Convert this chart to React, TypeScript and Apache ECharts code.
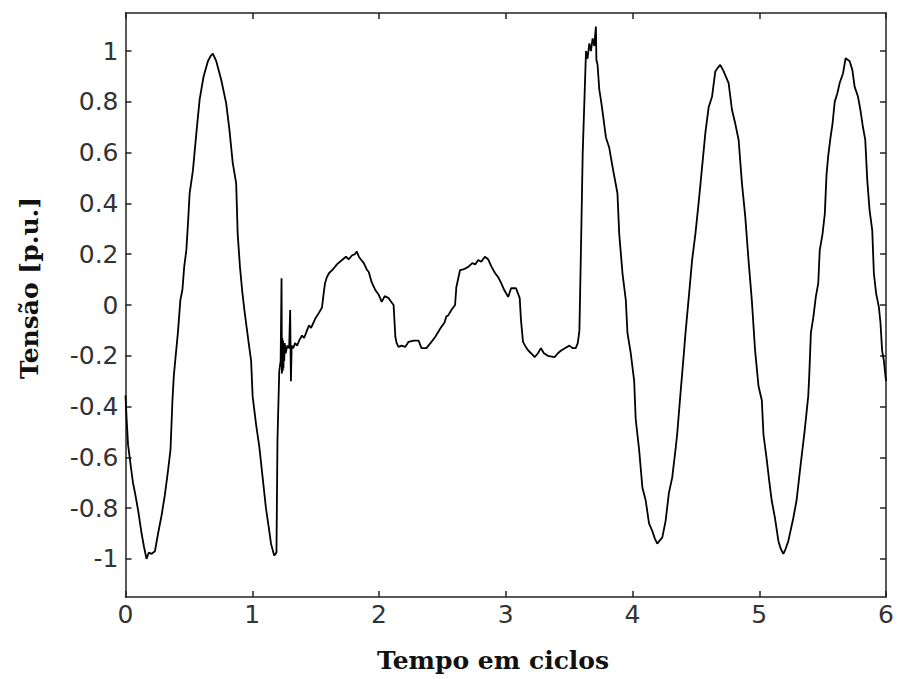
import React, { useEffect, useRef } from "react";
import * as echarts from "echarts";

// Time (cycles) and voltage (p.u.)
const timeCycles: number[] = [
  0, 0.009, 0.02, 0.043, 0.059, 0.075, 0.1, 0.127, 0.145, 0.166, 0.184, 0.206, 0.232, 0.257, 0.284, 0.31, 0.336, 0.355, 0.37, 0.381, 0.396, 0.414, 0.433, 0.449, 0.463, 0.48, 0.494, 0.506, 0.532, 0.559, 0.585, 0.616, 0.65, 0.671, 0.689, 0.716, 0.755, 0.794, 0.82, 0.846, 0.873, 0.885, 0.903, 0.92, 0.938, 0.951, 0.972, 0.991, 1.003, 1.03, 1.056, 1.082, 1.108, 1.134, 1.148, 1.173, 1.191, 1.199, 1.213,
  1.224, 1.231, 1.234, 1.237, 1.24, 1.243, 1.246, 1.249, 1.252, 1.256, 1.264, 1.276, 1.291, 1.299, 1.305, 1.311, 1.323, 1.338, 1.354, 1.37,
  1.393, 1.409, 1.432, 1.448, 1.464, 1.501, 1.527, 1.55, 1.562, 1.574, 1.589, 1.605, 1.636, 1.668, 1.708, 1.739, 1.762, 1.786, 1.809, 1.825, 1.841, 1.856, 1.88, 1.903, 1.919, 1.942, 1.972, 1.998, 2.021, 2.045, 2.076, 2.1, 2.115, 2.129, 2.139, 2.154, 2.178, 2.207, 2.233, 2.273, 2.312, 2.335, 2.374, 2.406, 2.443, 2.492, 2.516, 2.531, 2.547, 2.571, 2.6, 2.61, 2.639, 2.665, 2.704, 2.736, 2.759, 2.783, 2.806, 2.835, 2.861, 2.888, 2.916, 2.94, 2.964, 2.987, 3.019, 3.042, 3.081, 3.11, 3.12, 3.136, 3.152, 3.175, 3.199, 3.228, 3.254, 3.277, 3.301, 3.332, 3.385, 3.411, 3.434, 3.466, 3.502, 3.528, 3.552, 3.568, 3.581,
  3.593, 3.607, 3.633, 3.645, 3.659, 3.672, 3.685, 3.698, 3.711, 3.715, 3.724, 3.738, 3.75, 3.764, 3.79, 3.816, 3.842, 3.881, 3.895, 3.921, 3.947, 3.96, 3.986, 4.013, 4.025, 4.052, 4.078, 4.104, 4.13, 4.156, 4.176, 4.195, 4.211, 4.235, 4.261, 4.287, 4.313, 4.339, 4.352, 4.378, 4.405, 4.418, 4.444, 4.47, 4.496, 4.523, 4.549, 4.575, 4.601, 4.627, 4.653, 4.674, 4.692, 4.719, 4.758, 4.784, 4.808, 4.837, 4.863, 4.889, 4.915, 4.941, 4.967, 4.994, 5.02, 5.033, 5.059, 5.08, 5.098, 5.124, 5.151, 5.169, 5.19, 5.208, 5.229, 5.268, 5.294, 5.326, 5.357, 5.386, 5.394, 5.407, 5.426, 5.446, 5.465, 5.477, 5.499, 5.517, 5.53, 5.543, 5.562, 5.577, 5.595, 5.616, 5.634, 5.661, 5.681, 5.713, 5.734, 5.752, 5.779, 5.797, 5.818, 5.836, 5.852, 5.87, 5.891, 5.904, 5.922, 5.943, 5.956, 5.969, 5.983, 6.0,
];

const voltagePu: number[] = [
  -0.356, -0.45, -0.55, -0.64, -0.7, -0.74, -0.81, -0.9, -0.95, -1.0, -0.975, -0.98, -0.97, -0.9, -0.83, -0.75, -0.65, -0.57, -0.38, -0.28, -0.2, -0.106, 0.02, 0.06, 0.15, 0.216, 0.33, 0.44, 0.53, 0.677, 0.81, 0.9, 0.96, 0.98, 0.99, 0.96, 0.887, 0.795, 0.69, 0.56, 0.48, 0.28, 0.15, 0.058, -0.02, -0.07, -0.15, -0.22, -0.36, -0.47, -0.56, -0.68, -0.8, -0.89, -0.94, -0.987, -0.975, -0.53, -0.26,
  -0.22, 0.105, -0.27, -0.13, -0.26, -0.14, -0.25, -0.15, -0.22, -0.15, -0.19, -0.16, -0.17, -0.02, -0.3, -0.16, -0.17, -0.15, -0.16, -0.14,
  -0.12, -0.13, -0.1, -0.08, -0.09, -0.05, -0.03, -0.01, 0.04, 0.086, 0.11, 0.125, 0.14, 0.16, 0.177, 0.19, 0.18, 0.195, 0.2, 0.21, 0.19, 0.18, 0.165, 0.14, 0.13, 0.09, 0.058, 0.04, 0.012, 0.035, 0.027, 0.01, 0.0, -0.126, -0.15, -0.165, -0.16, -0.165, -0.145, -0.14, -0.14, -0.17, -0.17, -0.15, -0.126, -0.086, -0.07, -0.045, -0.04, -0.02, 0.0, 0.07, 0.137, 0.14, 0.15, 0.165, 0.16, 0.177, 0.17, 0.19, 0.18, 0.15, 0.125, 0.11, 0.086, 0.06, 0.032, 0.066, 0.066, 0.027, -0.06, -0.145, -0.16, -0.178, -0.19, -0.205, -0.19, -0.17, -0.19, -0.2, -0.205, -0.19, -0.18, -0.17, -0.16, -0.17, -0.17, -0.15, -0.1,
  0.216, 0.6, 1.0, 0.97, 1.03, 1.0, 1.05, 1.02, 1.097, 0.966, 0.946, 0.847, 0.81, 0.76, 0.66, 0.62, 0.545, 0.44, 0.28, 0.124, 0.019, -0.11, -0.19, -0.3, -0.45, -0.57, -0.72, -0.77, -0.86, -0.89, -0.92, -0.94, -0.93, -0.915, -0.85, -0.74, -0.68, -0.57, -0.51, -0.35, -0.19, -0.11, 0.032, 0.177, 0.28, 0.41, 0.545, 0.68, 0.78, 0.82, 0.92, 0.935, 0.946, 0.92, 0.874, 0.77, 0.72, 0.65, 0.48, 0.35, 0.177, 0.019, -0.18, -0.32, -0.375, -0.51, -0.61, -0.7, -0.77, -0.84, -0.93, -0.96, -0.98, -0.96, -0.93, -0.84, -0.77, -0.63, -0.5, -0.36, -0.28, -0.11, -0.05, 0.032, 0.085, 0.216, 0.28, 0.36, 0.51, 0.584, 0.66, 0.71, 0.8, 0.834, 0.874, 0.913, 0.972, 0.96, 0.926, 0.86, 0.82, 0.77, 0.7, 0.65, 0.49, 0.374, 0.295, 0.124, 0.045, -0.007, -0.07, -0.18, -0.22, -0.3,
];

const xTicks: number[] = [0, 1, 2, 3, 4, 5, 6];
const yTicks: number[] = [-1, -0.8, -0.6, -0.4, -0.2, 0, 0.2, 0.4, 0.6, 0.8, 1];

const xTitle = "Tempo em ciclos";
const yTitle = "Tensão [p.u.]";

export default function App() {
  const ref = useRef<HTMLDivElement>(null);

  useEffect(() => {
    if (!ref.current) return;
    const chart = echarts.init(ref.current, undefined, { renderer: "svg" });
    const data = timeCycles.map((t, i) => [t, voltagePu[i]]);
    const axisColor = "#222";
    const labelFont = {
      fontFamily: "DejaVu Sans",
      fontSize: 25,
      color: "#333",
    };
    const titleFont = 'bold 25px "DejaVu Serif"';
    const line = { show: true, onZero: false, lineStyle: { color: axisColor, width: 1.5 } };
    const tickX = { show: true, inside: true, length: 6, lineStyle: { color: axisColor, width: 1.5 }, customValues: xTicks };
    const tickY = { show: true, inside: true, length: 6, lineStyle: { color: axisColor, width: 1.5 }, customValues: yTicks };

    chart.setOption({
      animation: false,
      backgroundColor: "#fff",
      grid: { left: 125.5, right: 7, top: 13, bottom: 82, containLabel: false },
      xAxis: [
        {
          type: "value",
          position: "bottom",
          min: 0,
          max: 6,
          interval: 1,
          axisLine: line,
          axisTick: tickX,
          axisLabel: { ...labelFont, margin: 5, customValues: xTicks },
          splitLine: { show: false },
        },
        {
          type: "value",
          position: "top",
          min: 0,
          max: 6,
          interval: 1,
          axisLine: line,
          axisTick: tickX,
          axisLabel: { show: false },
          splitLine: { show: false },
        },
      ],
      yAxis: [
        {
          type: "value",
          position: "left",
          min: -1.15,
          max: 1.15,
          axisLine: line,
          axisTick: tickY,
          axisLabel: {
            ...labelFont,
            margin: 7,
            customValues: yTicks,
            formatter: (v: number) => String(Math.round(v * 10) / 10),
          },
          splitLine: { show: false },
        },
        {
          type: "value",
          position: "right",
          min: -1.15,
          max: 1.15,
          axisLine: line,
          axisTick: tickY,
          axisLabel: { show: false },
          splitLine: { show: false },
        },
      ],
      graphic: [
        {
          type: "text",
          x: 493,
          y: 660,
          style: {
            text: xTitle,
            font: titleFont,
            fill: "#111",
            textAlign: "center",
            textVerticalAlign: "middle",
          },
        },
        {
          type: "text",
          x: 29,
          y: 288,
          rotation: Math.PI / 2,
          style: {
            text: yTitle,
            font: titleFont,
            fill: "#111",
            textAlign: "center",
            textVerticalAlign: "middle",
          },
        },
      ],
      series: [
        {
          type: "line",
          xAxisIndex: 0,
          yAxisIndex: 0,
          data,
          showSymbol: false,
          symbol: "none",
          lineStyle: { color: "#000", width: 1.8 },
          z: 3,
        },
      ],
    });

    return () => chart.dispose();
  }, []);

  return (
    <div
      ref={ref}
      style={{ position: "fixed", left: 0, top: 0, width: 897, height: 679, background: "#fff" }}
    />
  );
}
